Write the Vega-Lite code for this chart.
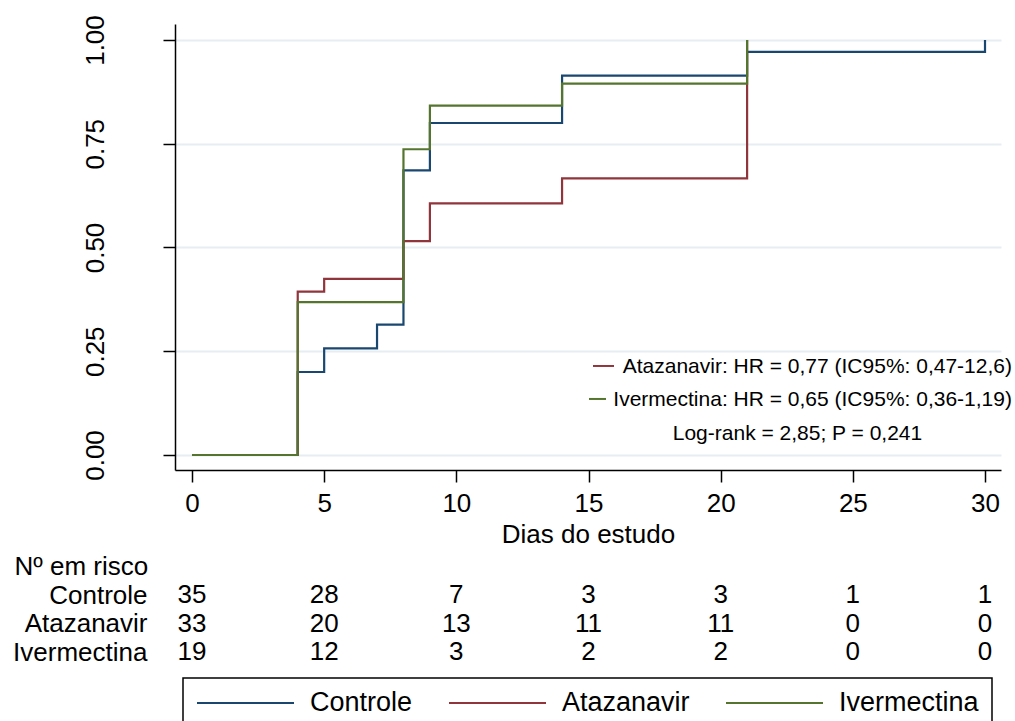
{
  "$schema": "https://vega.github.io/schema/vega-lite/v6.json",
  "width": 826,
  "height": 446,
  "autosize": {"type": "none"},
  "padding": {"left": 175, "top": 24, "right": 14, "bottom": 251},
  "background": "white",
  "config": {
    "view": {"stroke": null},
    "font": "Liberation Sans"
  },
  "datasets": {
    "km": [
      {"group": "Controle", "t": 0, "p": 0},
      {"group": "Controle", "t": 4, "p": 0.2},
      {"group": "Controle", "t": 5, "p": 0.2571},
      {"group": "Controle", "t": 7, "p": 0.3143},
      {"group": "Controle", "t": 8, "p": 0.6857},
      {"group": "Controle", "t": 9, "p": 0.8},
      {"group": "Controle", "t": 14, "p": 0.9143},
      {"group": "Controle", "t": 21, "p": 0.9714},
      {"group": "Controle", "t": 30, "p": 1},
      {"group": "Atazanavir", "t": 0, "p": 0},
      {"group": "Atazanavir", "t": 4, "p": 0.3939},
      {"group": "Atazanavir", "t": 5, "p": 0.4242},
      {"group": "Atazanavir", "t": 8, "p": 0.5152},
      {"group": "Atazanavir", "t": 9, "p": 0.6061},
      {"group": "Atazanavir", "t": 14, "p": 0.6667},
      {"group": "Atazanavir", "t": 21, "p": 1},
      {"group": "Ivermectina", "t": 0, "p": 0},
      {"group": "Ivermectina", "t": 4, "p": 0.3684},
      {"group": "Ivermectina", "t": 8, "p": 0.7368},
      {"group": "Ivermectina", "t": 9, "p": 0.8421},
      {"group": "Ivermectina", "t": 14, "p": 0.8947},
      {"group": "Ivermectina", "t": 21, "p": 1}
    ],
    "risk": [
      {"group": "Controle", "t": 0, "n": 35},
      {"group": "Controle", "t": 5, "n": 28},
      {"group": "Controle", "t": 10, "n": 7},
      {"group": "Controle", "t": 15, "n": 3},
      {"group": "Controle", "t": 20, "n": 3},
      {"group": "Controle", "t": 25, "n": 1},
      {"group": "Controle", "t": 30, "n": 1},
      {"group": "Atazanavir", "t": 0, "n": 33},
      {"group": "Atazanavir", "t": 5, "n": 20},
      {"group": "Atazanavir", "t": 10, "n": 13},
      {"group": "Atazanavir", "t": 15, "n": 11},
      {"group": "Atazanavir", "t": 20, "n": 11},
      {"group": "Atazanavir", "t": 25, "n": 0},
      {"group": "Atazanavir", "t": 30, "n": 0},
      {"group": "Ivermectina", "t": 0, "n": 19},
      {"group": "Ivermectina", "t": 5, "n": 12},
      {"group": "Ivermectina", "t": 10, "n": 3},
      {"group": "Ivermectina", "t": 15, "n": 2},
      {"group": "Ivermectina", "t": 20, "n": 2},
      {"group": "Ivermectina", "t": 25, "n": 0},
      {"group": "Ivermectina", "t": 30, "n": 0}
    ]
  },
  "layer": [
    {
      "layer": [
        {
          "data": {"name": "km"},
          "mark": {"type": "line", "interpolate": "step-after", "strokeWidth": 2.2},
          "encoding": {
            "x": {
              "field": "t", "type": "quantitative", "title": "Dias do estudo",
              "scale": {"domain": [-0.643, 30.605], "nice": false, "zero": false},
              "axis": {
                "values": [0, 5, 10, 15, 20, 25, 30],
                "grid": false,
                "tickSize": 12, "tickColor": "black", "tickWidth": 1.5,
                "domainColor": "black", "domainWidth": 1.5,
                "labelFont": "Liberation Sans", "labelFontSize": 26, "labelColor": "black",
                "labelBaseline": "alphabetic", "labelPadding": 29, "labelFlush": false, "labelOverlap": false,
                "title": "Dias do estudo", "titleFont": "Liberation Sans", "titleFontSize": 26,
                "titleFontWeight": "normal", "titleColor": "black",
                "titleBaseline": "alphabetic", "titleY": 72
              }
            },
            "y": {
              "field": "p", "type": "quantitative",
              "scale": {"domain": [-0.0362, 1.0386], "nice": false, "zero": false},
              "axis": {
                "values": [0, 0.25, 0.5, 0.75, 1],
                "format": ".2f",
                "grid": true, "gridColor": "#e6eef1", "gridWidth": 2,
                "tickSize": 12, "tickColor": "black", "tickWidth": 1.5,
                "domainColor": "black", "domainWidth": 1.5,
                "labelFont": "Liberation Sans", "labelFontSize": 26, "labelColor": "black",
                "labelAngle": -90, "labelAlign": "center", "labelBaseline": "alphabetic",
                "labelPadding": 59.5, "labelFlush": false, "labelOverlap": false,
                "title": null
              }
            },
            "color": {
              "field": "group", "type": "nominal",
              "scale": {"domain": ["Controle", "Atazanavir", "Ivermectina"], "range": ["#1a476f", "#90353b", "#55752f"]},
              "legend": {
                "orient": "none", "legendX": 8, "legendY": 654,
                "direction": "horizontal", "columns": 3, "title": null,
                "symbolType": "stroke", "symbolSize": 9409, "symbolStrokeWidth": 2,
                "labelFont": "Liberation Sans", "labelFontSize": 27, "labelColor": "black",
                "labelOffset": 15, "labelLimit": 0, "labelBaseline": "middle",
                "columnPadding": 35, "padding": 13, "clipHeight": 24,
                "strokeColor": "black",
                "encode": {"legend": {"update": {"strokeWidth": {"value": 1.5}}}}
              }
            }
          }
        },
        {
          "data": {"values": [{}]},
          "mark": {"type": "rule", "color": "#90353b", "strokeWidth": 2},
          "encoding": {
            "x": {"datum": 15.17, "type": "quantitative", "scale": {"domain": [-0.643, 30.605], "nice": false, "zero": false}},
            "x2": {"datum": 15.965},
            "y": {"datum": 0.2145, "type": "quantitative", "scale": {"domain": [-0.0362, 1.0386], "nice": false, "zero": false}}
          }
        },
        {
          "data": {"values": [{}]},
          "mark": {"type": "rule", "color": "#55752f", "strokeWidth": 2},
          "encoding": {
            "x": {"datum": 15.018, "type": "quantitative", "scale": {"domain": [-0.643, 30.605], "nice": false, "zero": false}},
            "x2": {"datum": 15.662},
            "y": {"datum": 0.135, "type": "quantitative", "scale": {"domain": [-0.0362, 1.0386], "nice": false, "zero": false}}
          }
        },
        {
          "data": {"values": [{}]},
          "mark": {"type": "text", "text": "Atazanavir: HR = 0,77 (IC95%: 0,47-12,6)", "align": "right", "baseline": "alphabetic", "fontSize": 21, "color": "black", "font": "Liberation Sans"},
          "encoding": {
            "x": {"datum": 31.02, "type": "quantitative", "scale": {"domain": [-0.643, 30.605], "nice": false, "zero": false}},
            "y": {"datum": 0.1964, "type": "quantitative", "scale": {"domain": [-0.0362, 1.0386], "nice": false, "zero": false}}
          }
        },
        {
          "data": {"values": [{}]},
          "mark": {"type": "text", "text": "Ivermectina: HR = 0,65 (IC95%: 0,36-1,19)", "align": "right", "baseline": "alphabetic", "fontSize": 21, "color": "black", "font": "Liberation Sans"},
          "encoding": {
            "x": {"datum": 31.02, "type": "quantitative", "scale": {"domain": [-0.643, 30.605], "nice": false, "zero": false}},
            "y": {"datum": 0.1169, "type": "quantitative", "scale": {"domain": [-0.0362, 1.0386], "nice": false, "zero": false}}
          }
        },
        {
          "data": {"values": [{}]},
          "mark": {"type": "text", "text": "Log-rank = 2,85; P = 0,241", "align": "center", "baseline": "alphabetic", "fontSize": 21, "color": "black", "font": "Liberation Sans"},
          "encoding": {
            "x": {"datum": 22.906, "type": "quantitative", "scale": {"domain": [-0.643, 30.605], "nice": false, "zero": false}},
            "y": {"datum": 0.0349, "type": "quantitative", "scale": {"domain": [-0.0362, 1.0386], "nice": false, "zero": false}}
          }
        }
      ]
    },
    {
      "data": {"name": "risk"},
      "mark": {"type": "text", "fontSize": 26, "align": "center", "baseline": "middle", "color": "black", "font": "Liberation Sans"},
      "encoding": {
        "x": {"field": "t", "type": "quantitative", "title": "Dias do estudo", "scale": {"domain": [-0.643, 30.605], "nice": false, "zero": false}},
        "y": {
          "field": "group", "type": "nominal",
          "scale": {"type": "point", "domain": ["Controle", "Atazanavir", "Ivermectina"], "range": [571, 628], "padding": 0},
          "axis": {
            "orient": "left", "domain": false, "ticks": false, "tickSize": 0, "grid": false,
            "labelFont": "Liberation Sans", "labelFontSize": 26, "labelColor": "black",
            "labelAlign": "right", "labelBaseline": "middle", "labelPadding": 28, "labelAngle": 0,
            "title": "Nº em risco", "titleFont": "Liberation Sans", "titleFontSize": 26,
            "titleFontWeight": "normal", "titleColor": "black", "titleAngle": 0,
            "titleAlign": "left", "titleBaseline": "middle", "titleX": -161, "titleY": 542
          }
        },
        "text": {"field": "n", "type": "quantitative"}
      }
    }
  ],
  "resolve": {"scale": {"y": "independent"}, "axis": {"y": "independent"}}
}
